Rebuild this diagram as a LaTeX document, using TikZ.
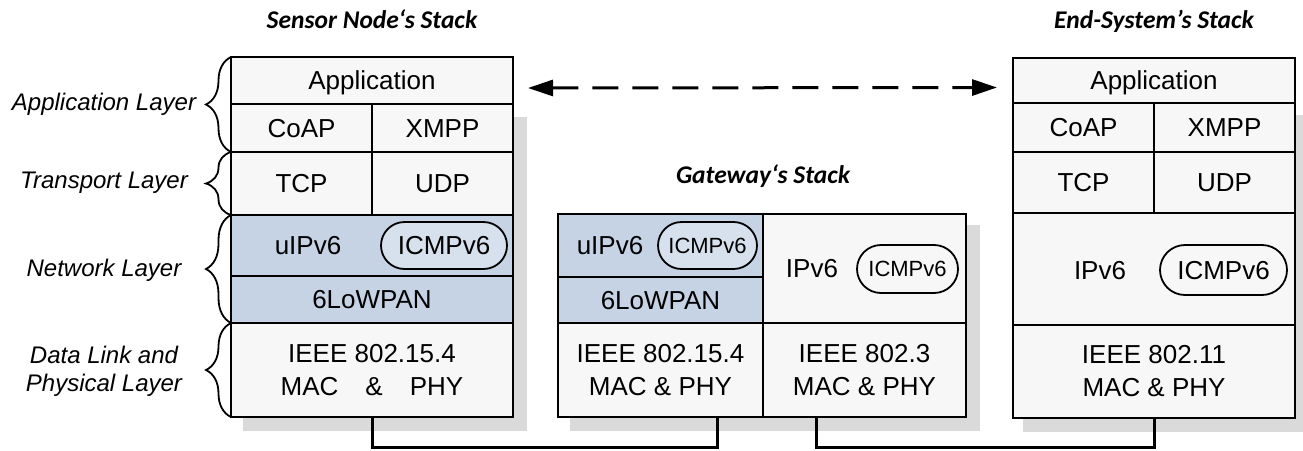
\documentclass[tikz,border=0pt]{standalone}
\usepackage{fontspec}
\setmainfont{Liberation Sans}
\newfontfamily\titlefont{Carlito}
\usetikzlibrary{arrows.meta,decorations.pathreplacing,calc}
\definecolor{cellgray}{HTML}{F7F7F7}
\definecolor{cellblue}{HTML}{C5D3E5}
\definecolor{pillblue}{HTML}{D7E1EE}
\definecolor{shadowgray}{HTML}{DADADA}
% style, name, x1, y1, x2, y2, text
\newcommand{\cellnode}[7]{%
  \node[#1, minimum width={#5-#3}, minimum height={#6-#4}] (#2) at ({(#3+#5)/2},{(#4+#6)/2}) {#7};}
\tikzset{
  cellbase/.style={draw, line width=2pt, fill=cellgray, inner sep=0pt, outer sep=0pt,
    font=\fontsize{26}{33}\selectfont, align=center},
  cell/.style={cellbase, text height=18.6pt, text depth=0pt},
  bluecell/.style={cell, fill=cellblue},
  plaintext/.style={inner sep=0pt, font=\fontsize{26}{33}\selectfont, text height=18.6pt, text depth=0pt},
  pill/.style={draw, line width=1.8pt, fill=pillblue, inner sep=0pt, text height=18.6pt, text depth=0pt,
    font=\fontsize{26}{33}\selectfont},
  smallpill/.style={pill, font=\fontsize{22}{26}\selectfont, text height=15.7pt},
  graypill/.style={fill=cellgray},
  shadowbox/.style={fill=shadowgray, draw=none},
  layerlabel/.style={font=\itshape\fontsize{24}{28}\selectfont, align=center, inner sep=0pt},
  stacktitle/.style={font=\titlefont\bfseries\itshape\fontsize{25.5}{30}\selectfont, inner sep=0pt,
    text height=16.4pt, text depth=0pt},
  bracest/.style={decorate, decoration={brace, amplitude=25pt}, line width=1.8pt},
  conn/.style={line width=3pt},
  dasharrow/.style={line width=3pt, dash pattern=on 26pt off 14pt,
    {Triangle[length=25pt,width=16pt]}-{Triangle[length=25pt,width=16pt]}}
}
\begin{document}
\begin{tikzpicture}[x=1pt, y=-1pt]
\useasboundingbox (0,0) rectangle (1303,450);

% shadows
\fill[shadowbox] (243,117) rectangle (527,431);
\fill[shadowbox] (570,225) rectangle (980,431);
\fill[shadowbox] (1023,115) rectangle (1303,432);

% titles
\node[stacktitle] (tS) at (372,20) {Sensor Node‘s Stack};
\node[stacktitle] (tG) at (763,175.5) {Gateway‘s Stack};
\node[stacktitle] (tE) at (1154,20) {End-System’s Stack};

% sensor node stack
\cellnode{cell}{sApp}{231}{57}{513}{104}{Application}
\cellnode{cell}{sCoap}{231}{104}{372}{152}{CoAP}
\cellnode{cell}{sXmpp}{372}{104}{513}{152}{XMPP}
\cellnode{cell}{sTcp}{231}{152}{372}{215}{TCP}
\cellnode{cell}{sUdp}{372}{152}{513}{215}{UDP}
\cellnode{bluecell}{sNet}{231}{215}{513}{276}{}
\cellnode{bluecell}{s6lo}{231}{276}{513}{323}{6LoWPAN}
\cellnode{cellbase}{sMac}{231}{323}{513}{417}{IEEE 802.15.4\\MAC\hspace{27pt}\&\hspace{27pt}PHY}
\node[plaintext] (sIp) at (308,245.5) {uIPv6};
\node[pill, minimum width=126, minimum height=47, rounded corners=23.5pt] (sIcmp) at (444,245.5) {ICMPv6};

% gateway stack
\cellnode{bluecell}{gNetA}{558}{214}{763}{277}{}
\cellnode{bluecell}{g6lo}{558}{277}{763}{323}{6LoWPAN}
\cellnode{cell}{gNetB}{763}{214}{966}{323}{}
\cellnode{cellbase}{gMacA}{558}{323}{763}{417}{IEEE 802.15.4\\MAC \& PHY}
\cellnode{cellbase}{gMacB}{763}{323}{966}{417}{IEEE 802.3\\MAC \& PHY}
\node[plaintext] (gIpA) at (610,245.5) {uIPv6};
\node[smallpill, minimum width=99, minimum height=47, rounded corners=23.5pt] (gIcmpA) at (707.5,245.5) {ICMPv6};
\node[plaintext] (gIpB) at (812,268.5) {IPv6};
\node[smallpill, graypill, minimum width=101, minimum height=48, rounded corners=24pt] (gIcmpB) at (907.5,269) {ICMPv6};

% end-system stack
\cellnode{cell}{eApp}{1013}{58}{1295}{103}{Application}
\cellnode{cell}{eCoap}{1013}{103}{1154}{152}{CoAP}
\cellnode{cell}{eXmpp}{1154}{103}{1295}{152}{XMPP}
\cellnode{cell}{eTcp}{1013}{152}{1154}{213}{TCP}
\cellnode{cell}{eUdp}{1154}{152}{1295}{213}{UDP}
\cellnode{cell}{eNet}{1013}{213}{1295}{325}{}
\cellnode{cellbase}{eMac}{1013}{325}{1295}{418}{IEEE 802.11\\MAC \& PHY}
\node[plaintext] (eIp) at (1100,270) {IPv6};
\node[pill, graypill, minimum width=127, minimum height=50, rounded corners=25pt] (eIcmp) at (1223.5,270) {ICMPv6};

% layer braces and labels
\draw[bracest] (sTcp.north west) -- (sApp.north west);
\draw[bracest] (sTcp.south west) -- (sTcp.north west);
\draw[bracest] (sMac.north west) -- (sNet.north west);
\draw[bracest] (sMac.south west) -- (sMac.north west);
\node[layerlabel] (lApp) at (104,104.5) {Application Layer};
\node[layerlabel] (lTra) at (104,183) {Transport Layer};
\node[layerlabel] (lNet) at (104,270) {Network Layer};
\node[layerlabel] (lDl) at (104,371) {Data Link and\\Physical Layer};

% end-to-end dashed arrow
\coordinate (aL) at ($(sApp.east)+(15,7.5)$);
\coordinate (aR) at ($(eApp.west)+(-16,7)$);
\draw[dasharrow] (aL) -- (aR);

% physical links
\draw[conn] (sMac.south) -- ++(0,30) -| ($(gMacA.south)+(56.5,0)$);
\draw[conn] ($(gMacB.south)+(-48.5,0)$) -- ++(0,30) -| (eMac.south);
\end{tikzpicture}
\end{document}
